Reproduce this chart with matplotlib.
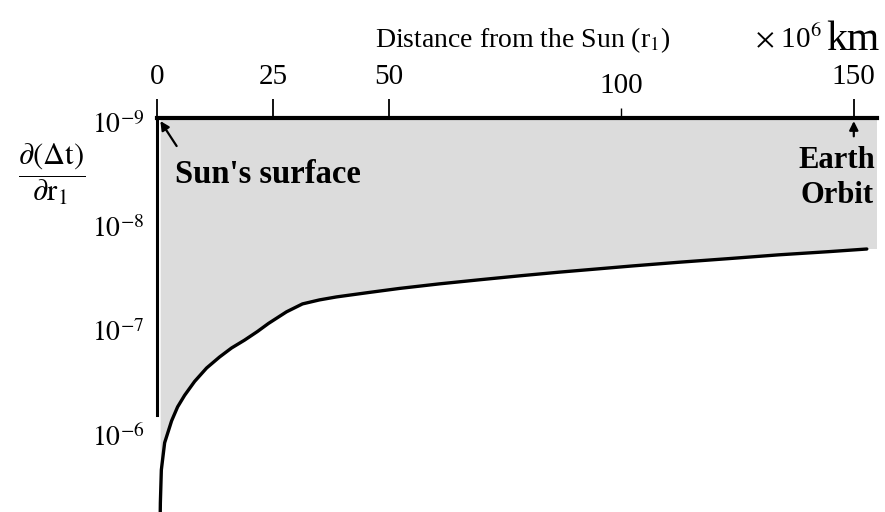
import numpy as np
import matplotlib
matplotlib.use("Agg")
import matplotlib.pyplot as plt
import matplotlib.transforms as mtransforms

# distance from the Sun (x 10^6 km) and d(dt)/dr1
distance = [0.76, 0.80, 1.01, 1.72, 3.22, 4.51, 6.02, 8.17, 10.75, 13.54,
            16.12, 18.91, 21.71, 24.07, 27.94, 31.38, 35.03, 38.69, 45.78,
            52.22, 60.82, 69.42, 78.01, 86.61, 95.21, 102.3, 112.4, 123.2,
            133.9, 144.6, 152.8]
ddt = [7.0e-6, 5.04e-6, 2.43e-6, 1.33e-6, 8.18e-7, 6.01e-7, 4.65e-7, 3.42e-7,
       2.54e-7, 1.99e-7, 1.63e-7, 1.37e-7, 1.13e-7, 9.46e-8, 7.32e-8, 6.14e-8,
       5.62e-8, 5.26e-8, 4.76e-8, 4.36e-8, 3.94e-8, 3.60e-8, 3.30e-8, 3.04e-8,
       2.82e-8, 2.65e-8, 2.44e-8, 2.25e-8, 2.07e-8, 1.93e-8, 1.82e-8]

major_ticks = [0, 25, 50, 150]
minor_ticks = [100]
y_ticks = [1e-9, 1e-8, 1e-7, 1e-6]
y_tick_labels = [r"$10^{-9}$", r"$10^{-8}$", r"$10^{-7}$", r"$10^{-6}$"]

plt.rcParams['font.family'] = ['Liberation Serif', 'DejaVu Serif']
plt.rcParams['mathtext.fontset'] = 'stix'

fig = plt.figure(figsize=(8.85, 5.12), dpi=100)
ax = fig.add_axes([0.177, 0.0, 0.814, 0.7695])

ax.set_yscale('log')
ax.set_xlim(0, 155)
ax.set_ylim(10 ** -5.21, 1e-9)

gray = '#dcdcdc'
ax.fill_between(distance, ddt, 1e-9, color=gray, linewidth=0)
ax.fill_between([distance[-1], 155], [ddt[-1], ddt[-1]], 1e-9, color=gray, linewidth=0)
ax.plot(distance, ddt, color='black', lw=2.4, solid_capstyle='round',
        solid_joinstyle='round')

# axes styling
ax.spines['right'].set_visible(False)
ax.spines['bottom'].set_visible(False)
ax.spines['top'].set_linewidth(3)
ax.spines['left'].set_linewidth(2.2)
ax.spines['left'].set_bounds(10 ** -6.144, 1e-9)

ax.xaxis.tick_top()
ax.set_xticks(major_ticks)
ax.set_xticklabels([str(t) for t in major_ticks], fontsize=21)
ax.set_xticks(minor_ticks, minor=True)
ax.set_xticklabels([str(t) for t in minor_ticks], minor=True, fontsize=21)
ax.tick_params(axis='x', which='major', direction='out', length=14, width=1.3, pad=6)
ax.tick_params(axis='x', which='minor', direction='out', length=7, width=1.0, pad=7)

ax.set_yticks(y_ticks)
ax.set_yticklabels(y_tick_labels, fontsize=20)
ax.yaxis.set_minor_locator(matplotlib.ticker.NullLocator())
ax.tick_params(axis='y', length=0, pad=9)
shift = mtransforms.ScaledTranslation(0, -8 / 100, fig.dpi_scale_trans)
for lab in ax.get_yticklabels():
    lab.set_va('center')
    lab.set_transform(lab.get_transform() + shift)

# labels
fig.text(0.591, 0.922, r"Distance from the Sun (r$_1$)", fontsize=20,
         ha='center', va='center')
fig.text(0.929, 0.924, r"$\times$ 10$^6$", fontsize=21, ha='right', va='center')
fig.text(0.933, 0.922, "km", fontsize=30, ha='left', va='center')
fig.text(0.058, 0.66, r"$\dfrac{\partial(\Delta\mathrm{t})}{\partial\mathrm{r}_1}$",
         fontsize=22, ha='center', va='center')

# annotations
ax.text(4, 3.53e-9, "Sun's surface", fontsize=23.5, fontweight='bold',
        ha='left', va='center')
ax.annotate("", xy=(0.8, 1.07e-9), xytext=(4.3, 1.86e-9),
            arrowprops=dict(arrowstyle='-|>', color='black', lw=1.6,
                            shrinkA=0, shrinkB=0, mutation_scale=13))
ax.text(146.4, 3.78e-9, "Earth\nOrbit", fontsize=22, fontweight='bold',
        ha='center', va='center', linespacing=1.25)
ax.annotate("", xy=(150, 1.07e-9), xytext=(150, 1.5e-9),
            arrowprops=dict(arrowstyle='-|>', color='black', lw=1.6,
                            shrinkA=0, shrinkB=0, mutation_scale=13))

fig.savefig("out.png", dpi=100)
